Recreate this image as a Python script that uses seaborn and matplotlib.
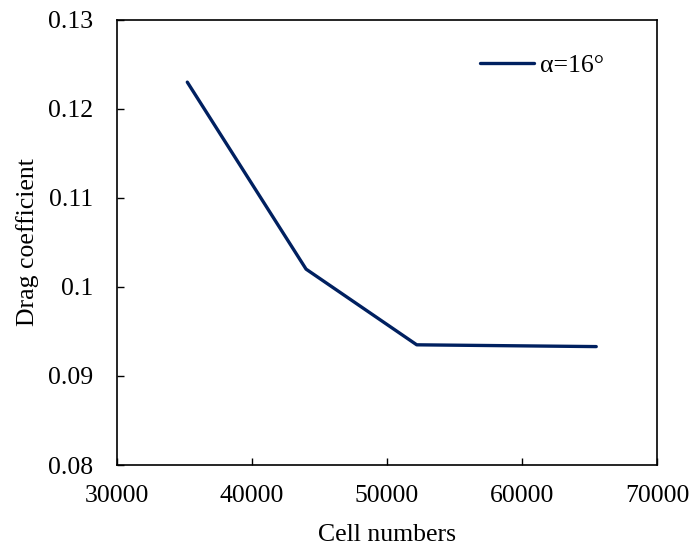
import numpy as np
import matplotlib.pyplot as plt
import seaborn as sns
import pandas as pd

cell_numbers = [35200, 44000, 52200, 65500]
drag_coeff = [0.1230, 0.1020, 0.0935, 0.0933]
series_label = 'α=16°'

data = pd.DataFrame({'Cell numbers': cell_numbers, 'Drag coefficient': drag_coeff})

sns.set_theme(style="ticks")
plt.rcParams['font.family'] = ['Liberation Serif', 'DejaVu Serif']
plt.rcParams['text.color'] = 'black'
plt.rcParams['axes.labelcolor'] = 'black'

fig = plt.figure(figsize=(6.93, 5.5), dpi=100)
ax = fig.add_axes([0.169, 0.1545, 0.779, 0.8095])

sns.lineplot(x='Cell numbers', y='Drag coefficient', data=data, color='#002060',
             linewidth=2.4, label=series_label, ax=ax)

ax.set_xlim(30000, 70000)
ax.set_ylim(0.08, 0.13)
ax.set_xticks([30000, 40000, 50000, 60000, 70000])
ax.set_yticks([0.08, 0.09, 0.1, 0.11, 0.12, 0.13])
ax.set_yticklabels(['0.08', '0.09', '0.1', '0.11', '0.12', '0.13'])
ax.tick_params(direction='in', length=5, width=1, labelsize=18.5, colors='black')
ax.tick_params(axis='x', pad=14.5)
ax.tick_params(axis='y', pad=17)
for s in ax.spines.values():
    s.set_linewidth(1.2)
    s.set_color('black')

ax.set_xlabel('Cell numbers', fontsize=18.5, labelpad=12, color='black')
ax.set_ylabel('Drag coefficient', fontsize=18.5, labelpad=7, color='black')

leg = ax.legend(loc='upper right', frameon=False, fontsize=18.5, handlelength=2.1,
                handletextpad=0.23, bbox_to_anchor=(0.945, 0.976))
for t in leg.get_texts():
    t.set_color('black')

plt.savefig('out.png', dpi=100)
